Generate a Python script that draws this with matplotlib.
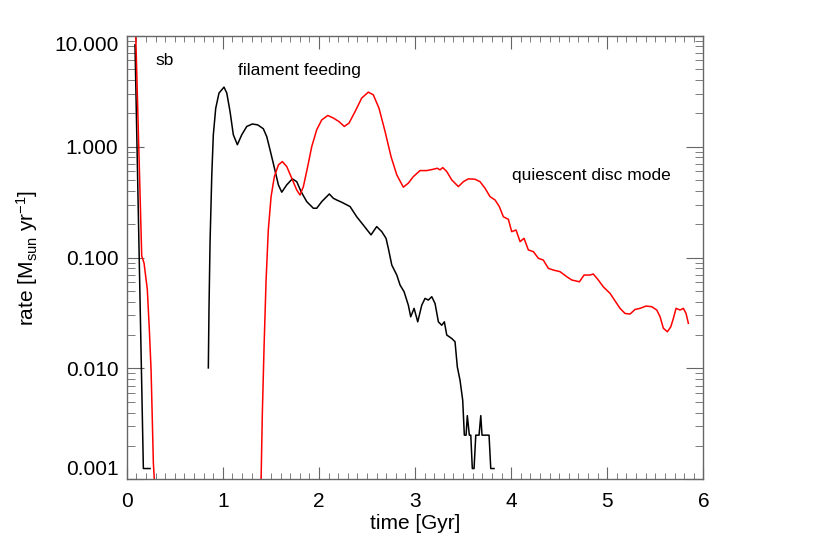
import numpy as np
import matplotlib
matplotlib.use('Agg')
import matplotlib.pyplot as plt
from matplotlib.ticker import FixedLocator, LogLocator, NullFormatter, MultipleLocator

plt.rcParams['font.family'] = ['Liberation Sans', 'DejaVu Sans']
plt.rcParams['mathtext.default'] = 'regular'

# black: starburst spike, then filament feeding
black_sb_t = [0.086, 0.173, 0.243]
black_sb_rate = [8.3, 0.00125, 0.00125]

black_t = [0.849, 0.856, 0.867, 0.885, 0.901, 0.926, 0.960, 1.012, 1.041, 1.075,
           1.109, 1.151, 1.197, 1.249, 1.307, 1.363, 1.421, 1.457, 1.491, 1.533,
           1.578, 1.613, 1.665, 1.723, 1.769, 1.814, 1.873, 1.942, 1.977, 2.029,
           2.108, 2.150, 2.185, 2.237, 2.324, 2.393, 2.462, 2.542, 2.601, 2.654,
           2.698, 2.722, 2.758, 2.810, 2.844, 2.886, 2.930, 2.955, 2.990, 3.028,
           3.070, 3.104, 3.138, 3.174, 3.208, 3.243, 3.278, 3.305, 3.330, 3.382,
           3.416, 3.440, 3.468, 3.496, 3.513, 3.531, 3.544, 3.565, 3.580, 3.596,
           3.614, 3.632, 3.666, 3.684, 3.697, 3.770, 3.788, 3.822]
black_rate = [0.0101, 0.035, 0.139, 0.556, 1.28, 2.22, 3.04, 3.44, 3.04, 2.07,
              1.28, 1.04, 1.28, 1.52, 1.60, 1.57, 1.45, 1.23, 0.936, 0.661,
              0.452, 0.388, 0.452, 0.512, 0.483, 0.393, 0.319, 0.278, 0.278, 0.319,
              0.374, 0.342, 0.330, 0.315, 0.288, 0.233, 0.196, 0.160, 0.190, 0.171,
              0.149, 0.121, 0.0855, 0.0695, 0.0565, 0.0491, 0.0372, 0.0292, 0.0348, 0.0263,
              0.0372, 0.0428, 0.0413, 0.0443, 0.0385, 0.0263, 0.0245, 0.0263, 0.0200, 0.0186,
              0.0174, 0.0103, 0.00783, 0.00516, 0.0025, 0.0025, 0.00375, 0.0025, 0.0025, 0.00125,
              0.00125, 0.0025, 0.0025, 0.00375, 0.0025, 0.0025, 0.00125, 0.00125]

# red: starburst spike, then quiescent disc mode
red_sb_t = [0.089, 0.156, 0.180, 0.214, 0.235, 0.253, 0.266, 0.277, 0.287, 0.294]
red_sb_rate = [14, 0.103, 0.0891, 0.0516, 0.0225, 0.00977, 0.00346, 0.0014, 0.001, 0.0007]

red_t = [1.392, 1.398, 1.411, 1.429, 1.450, 1.473, 1.502, 1.536, 1.578, 1.619,
         1.665, 1.717, 1.769, 1.803, 1.838, 1.883, 1.925, 1.977, 2.029, 2.092,
         2.150, 2.209, 2.264, 2.313, 2.376, 2.445, 2.514, 2.566, 2.625, 2.688,
         2.750, 2.810, 2.878, 2.930, 2.982, 3.052, 3.122, 3.190, 3.232, 3.260,
         3.288, 3.330, 3.382, 3.451, 3.503, 3.555, 3.624, 3.676, 3.728, 3.780,
         3.833, 3.877, 3.919, 3.971, 4.006, 4.051, 4.093, 4.134, 4.179, 4.231,
         4.283, 4.335, 4.387, 4.439, 4.509, 4.579, 4.631, 4.710, 4.759, 4.821,
         4.855, 4.907, 4.959, 5.029, 5.099, 5.133, 5.185, 5.237, 5.289, 5.341,
         5.404, 5.463, 5.515, 5.550, 5.584, 5.626, 5.661, 5.688, 5.716, 5.758,
         5.792, 5.820, 5.844]
red_rate = [0.0007, 0.001, 0.00392, 0.0157, 0.0627, 0.177, 0.354, 0.536, 0.684, 0.733,
            0.661, 0.519, 0.406, 0.366, 0.436, 0.661, 1.0, 1.42, 1.74, 1.91,
            1.81, 1.68, 1.52, 1.63, 2.07, 2.74, 3.10, 2.93, 2.22, 1.37,
            0.813, 0.556, 0.431, 0.468, 0.536, 0.608, 0.608, 0.625, 0.638, 0.617,
            0.647, 0.596, 0.501, 0.436, 0.483, 0.512, 0.508, 0.483, 0.422, 0.354,
            0.330, 0.288, 0.233, 0.221, 0.171, 0.177, 0.139, 0.149, 0.117, 0.113,
            0.0984, 0.0948, 0.0798, 0.0771, 0.0745, 0.0671, 0.0627, 0.0604, 0.0695, 0.0695,
            0.0710, 0.0627, 0.0544, 0.0475, 0.0385, 0.0348, 0.0313, 0.0309, 0.0340, 0.0348,
            0.0365, 0.0360, 0.0336, 0.0292, 0.0230, 0.0214, 0.0237, 0.0282, 0.0348, 0.0336,
            0.0348, 0.0313, 0.0255]

y_ticks = [0.001, 0.01, 0.1, 1, 10]
y_ticklabels = ['0.001', '0.010', '0.100', '1.000', '10.000']

fig = plt.figure(figsize=(8.3, 5.53), dpi=100)
ax = fig.add_axes([0.1527, 0.1333, 0.6947, 0.8021])

ax.plot(black_sb_t, black_sb_rate, color='black', lw=1.1)
ax.plot(black_t, black_rate, color='black', lw=1.1)
ax.plot(red_sb_t, red_sb_rate, color='red', lw=1.1)
ax.plot(red_t, red_rate, color='red', lw=1.1)

ax.set_yscale('log')
ax.set_xlim(0, 6)
ax.set_ylim(0.001, 10)

ax.xaxis.set_major_locator(MultipleLocator(1))
ax.xaxis.set_minor_locator(MultipleLocator(0.1))
ax.yaxis.set_major_locator(FixedLocator(y_ticks))
ax.set_yticklabels(y_ticklabels)
ax.yaxis.set_minor_locator(LogLocator(base=10, subs=np.arange(2, 10)))
ax.yaxis.set_minor_formatter(NullFormatter())

grey = '0.4'
for s in ax.spines.values():
    s.set_color(grey)
    s.set_linewidth(1.0)
ax.tick_params(which='both', direction='in', top=True, right=True, color=grey,
               labelsize=15, labelcolor='black')
ax.tick_params(axis='x', which='major', length=9, pad=9)
ax.tick_params(axis='x', which='minor', length=4.5)
ax.tick_params(axis='y', which='major', length=12, pad=6)
ax.tick_params(axis='y', which='minor', length=5.5)

ylabs = ax.get_yticklabels()
ylabs[0].set_va('bottom')
ylabs[-1].set_va('top')

ax.set_xlabel('time [Gyr]', fontsize=15)
ax.xaxis.set_label_coords(0.5, -0.078)
ax.set_ylabel('rate [M$_{sun}$ yr$^{-1}$]', fontsize=15)
ax.yaxis.set_label_coords(-0.15, 0.5)

ax.text(0.294, 5.44, 'sb', fontsize=12.5)
ax.text(1.161, 4.42, 'filament feeding', fontsize=12.5)
ax.text(4.006, 0.50, 'quiescent disc mode', fontsize=12.5)

fig.savefig('out.png', dpi=100)
